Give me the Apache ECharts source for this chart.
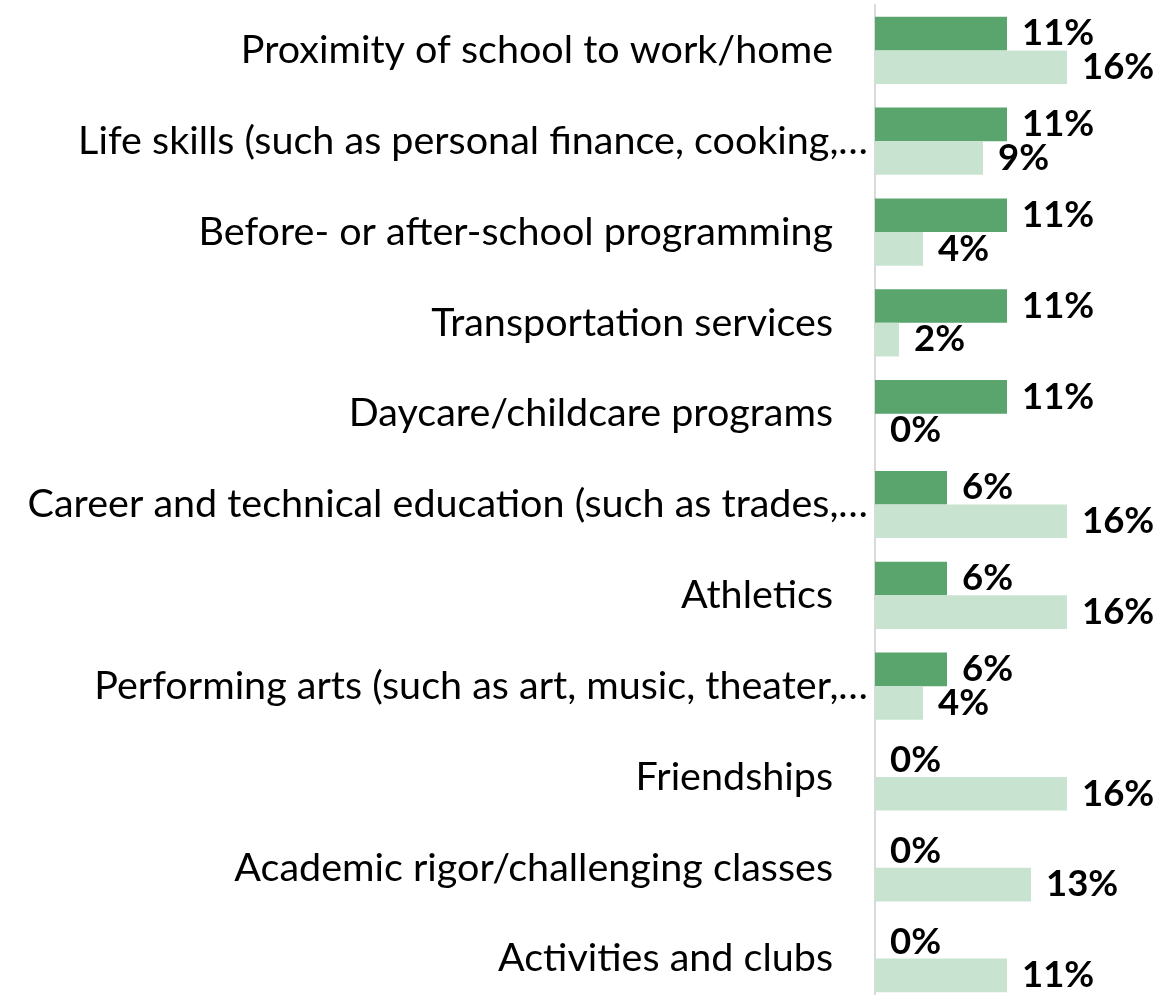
<!DOCTYPE html>
<html>
<head>
<meta charset="utf-8">
<script src="https://cdn.jsdelivr.net/npm/echarts@6/dist/echarts.min.js"></script>
<style>
  html, body { margin: 0; padding: 0; background: #fff; }
  #main { width: 1163px; height: 995px; }
</style>
</head>
<body>
<div id="main"></div>
<script>
// 类别（从上到下）
var categories = [
    'Proximity of school to work/home',
    'Life skills (such as personal finance, cooking,\u2026',
    'Before- or after-school programming',
    'Transportation services',
    'Daycare/childcare programs',
    'Career and technical education (such as trades,\u2026',
    'Athletics',
    'Performing arts (such as art, music, theater,\u2026',
    'Friendships',
    'Academic rigor/challenging classes',
    'Activities and clubs'
];
// 深绿系列
var darkValues = [11, 11, 11, 11, 11, 6, 6, 6, 0, 0, 0];
// 浅绿系列
var lightValues = [16, 9, 4, 2, 0, 16, 16, 4, 16, 13, 11];

var chart = echarts.init(document.getElementById('main'));

var labelStyle = {
    show: true,
    position: 'right',
    distance: 15,
    formatter: '{c}%',
    color: '#000',
    fontFamily: 'Lato',
    fontWeight: 'bold',
    fontSize: 36.5
};

var option = {
    animation: false,
    grid: {
        left: 875,
        top: 5,
        width: 288,
        height: 999,
        outerBoundsMode: 'none',
        containLabel: false
    },
    xAxis: {
        type: 'value',
        min: 0,
        max: 24,
        show: false
    },
    yAxis: {
        type: 'category',
        inverse: true,
        data: categories,
        axisTick: { show: false },
        axisLine: { show: true, lineStyle: { color: '#d9d9d9', width: 2 } },
        axisLabel: {
            margin: 7,
            color: '#000',
            fontFamily: 'Lato',
            fontSize: 39.5,
            // 截断的标签（带省略号）更靠右
            formatter: function (v) {
                return v.indexOf('\u2026') >= 0 ? '{cut|' + v + '}' : '{full|' + v + '}';
            },
            rich: {
                cut: { fontFamily: 'Lato', fontSize: 39.5, color: '#000' },
                full: { fontFamily: 'Lato', fontSize: 39.5, color: '#000', padding: [0, 35, 0, 0] }
            }
        }
    },
    series: [
        {
            name: 'dark',
            type: 'bar',
            data: darkValues,
            barGap: '0%',
            barCategoryGap: '26%',
            itemStyle: { color: '#5aa46d' },
            label: labelStyle
        },
        {
            name: 'light',
            type: 'bar',
            data: lightValues,
            barGap: '0%',
            barCategoryGap: '26%',
            itemStyle: { color: '#c9e3d1' },
            label: labelStyle
        }
    ]
};
chart.setOption(option);
</script>
</body>
</html>
